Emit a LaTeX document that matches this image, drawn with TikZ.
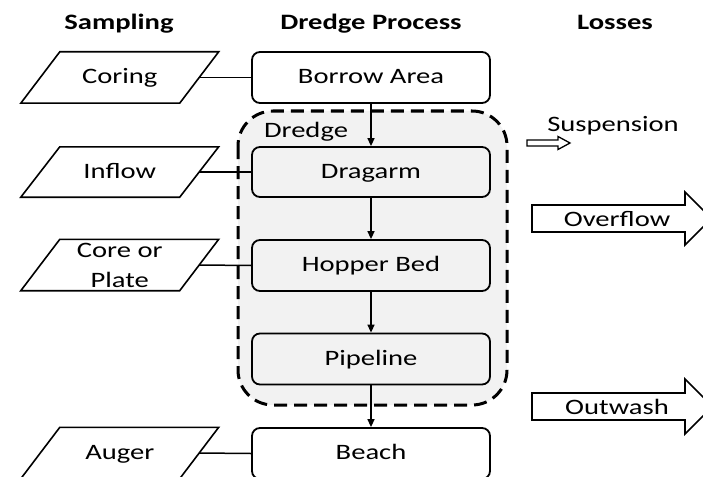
\documentclass[tikz,border=0pt]{standalone}
\usepackage{fontspec}
\setmainfont{Carlito}[FakeStretch=1.3]
\usetikzlibrary{arrows.meta,calc}
\definecolor{regiongray}{HTML}{F2F2F2}
\newcommand\drawpara[1]{\draw[paraline] ([xshift=-19.5pt]#1.south west) -- ([xshift=19.5pt]#1.north west) -- ([xshift=19.5pt]#1.north east) -- ([xshift=-19.5pt]#1.south east) -- cycle;}
\begin{document}
\begin{tikzpicture}[x=1pt,y=-1pt,
  every node/.style={font=\fontsize{22}{30}\selectfont, inner sep=0pt},
  procbox/.style={draw, line width=1.8pt, rounded corners=8pt, minimum width=238pt, minimum height=51pt, text height=14pt, text depth=2pt},
  inbox/.style={procbox, fill=regiongray},
  outbox/.style={procbox, fill=white},
  paratext/.style={minimum width=158.5pt, minimum height=51pt, text height=14pt, text depth=2pt},
  paraline/.style={line width=1.6pt, line join=miter},
  link/.style={line width=1.5pt},
  flow/.style={line width=1.5pt, -{Triangle[length=8pt,width=7pt]}},
  head/.style={font=\fontsize{22}{26}\selectfont\bfseries, anchor=base},
  lbl/.style={anchor=base},
  region/.style={draw, fill=regiongray, line width=3pt, dash pattern=on 13pt off 7pt, rounded corners=35pt},
  fatarrow/.style={draw, fill=white, line width=1.6pt, line join=miter},
]
\useasboundingbox (0,0) rectangle (703,476);
\clip (0,0) rectangle (703,476);

% headers
\node[head] (hsamp) at (119,30) {Sampling};
\node[head] (hproc) at (371,30) {Dredge Process};
\node[head] (hloss) at (615,30) {Losses};

% dredge region
\draw[region] (238,111) rectangle (507,405);
\node[lbl] (dredgelbl) at (306,137) {Dredge};

% process boxes
\node[outbox] (borrow) at (371,77.5) {Borrow Area};
\node[inbox, minimum height=50pt] (dragarm) at (371,172) {Dragarm};
\node[inbox] (hopper) at (371,265.5) {Hopper Bed};
\node[inbox] (pipeline) at (371,359) {Pipeline};
\node[outbox] (beach) at (371,453.5) {Beach};

% sampling parallelograms
\node[paratext] (coring) at (119.75,77.5) {Coring};
\node[paratext, minimum height=50pt] (inflow) at (119.75,172) {Inflow};
\node[paratext, text height=, text depth=, align=center] (core) at (119.75,265) {Core or\\Plate};
\node[paratext] (auger) at (119.75,453) {Auger};
\drawpara{coring}
\drawpara{inflow}
\drawpara{core}
\drawpara{auger}

% links
\draw[link] (coring.east) -- (borrow.west);
\draw[link] (inflow.east) -- (dragarm.west);
\draw[link] (core.east) -- (hopper.west);
\draw[link] (auger.east) -- (beach.west);

% flows
\draw[flow] (borrow) -- (dragarm);
\draw[flow] (dragarm) -- (hopper);
\draw[flow] (hopper) -- (pipeline);
\draw[flow] (pipeline) -- (beach);

% losses
\draw[fatarrow, line width=1.3pt] (527,140) -- (558,140) -- (558,136.5) -- (570,143) -- (558,149.5) -- (558,146) -- (527,146) -- cycle;
\node[lbl] (susp) at (613,131.5) {Suspension};
\draw[fatarrow] (532,205) -- (685,205) -- (685,192) -- (711.5,218.5) -- (685,245) -- (685,232) -- (532,232) -- cycle;
\node[lbl] (overflow) at (617,226) {Overflow};
\draw[fatarrow] (532,393) -- (685,393) -- (685,379) -- (712.5,406.5) -- (685,434) -- (685,420) -- (532,420) -- cycle;
\node[lbl] (outwash) at (617,414) {Outwash};
\end{tikzpicture}
\end{document}
